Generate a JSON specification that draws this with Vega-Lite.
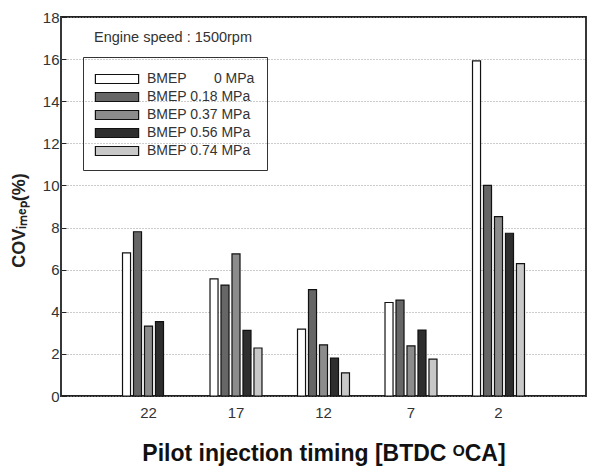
{
  "$schema": "https://vega.github.io/schema/vega-lite/v6.json",
  "width": 525,
  "height": 379,
  "autosize": {"type": "none"},
  "padding": {"left": 61, "top": 17, "right": 7, "bottom": 72},
  "background": "white",
  "config": {
    "font": "Liberation Sans",
    "view": {"stroke": "#222", "strokeWidth": 1.8}
  },
  "title": {
    "text": "Engine speed : 1500rpm",
    "anchor": "start",
    "frame": "group",
    "dx": 33,
    "offset": -35,
    "fontSize": 14.5,
    "fontWeight": "normal",
    "color": "#333",
    "font": "Liberation Sans"
  },
  "data": {
    "values": [
      {"t": "22", "s": "0", "v": 6.8},
      {"t": "22", "s": "0.18", "v": 7.8},
      {"t": "22", "s": "0.37", "v": 3.32},
      {"t": "22", "s": "0.56", "v": 3.53},
      {"t": "17", "s": "0", "v": 5.56},
      {"t": "17", "s": "0.18", "v": 5.27},
      {"t": "17", "s": "0.37", "v": 6.75},
      {"t": "17", "s": "0.56", "v": 3.12},
      {"t": "17", "s": "0.74", "v": 2.28},
      {"t": "12", "s": "0", "v": 3.18},
      {"t": "12", "s": "0.18", "v": 5.05},
      {"t": "12", "s": "0.37", "v": 2.43},
      {"t": "12", "s": "0.56", "v": 1.8},
      {"t": "12", "s": "0.74", "v": 1.1},
      {"t": "7", "s": "0", "v": 4.44},
      {"t": "7", "s": "0.18", "v": 4.55},
      {"t": "7", "s": "0.37", "v": 2.38},
      {"t": "7", "s": "0.56", "v": 3.13},
      {"t": "7", "s": "0.74", "v": 1.75},
      {"t": "2", "s": "0", "v": 15.92},
      {"t": "2", "s": "0.18", "v": 10.0},
      {"t": "2", "s": "0.37", "v": 8.52},
      {"t": "2", "s": "0.56", "v": 7.73},
      {"t": "2", "s": "0.74", "v": 6.29}
    ]
  },
  "mark": {"type": "bar", "stroke": "#111", "strokeWidth": 1.2},
  "encoding": {
    "x": {
      "field": "t",
      "type": "nominal",
      "sort": ["22", "17", "12", "7", "2"],
      "scale": {"paddingInner": 0.406, "paddingOuter": 0.703},
      "axis": {
        "title": "Pilot injection timing [BTDC ᴼCA]",
        "labelAngle": 0,
        "ticks": false,
        "domain": false,
        "labelPadding": 9,
        "labelFontSize": 15,
        "labelColor": "#333",
        "titleFontSize": 23,
        "titleFontWeight": "bold",
        "titlePadding": 22,
        "titleColor": "#111"
      }
    },
    "xOffset": {
      "field": "s",
      "type": "nominal",
      "scale": {"domain": ["0", "0.18", "0.37", "0.56", "0.74"], "paddingInner": 0.27, "paddingOuter": 0}
    },
    "y": {
      "field": "v",
      "type": "quantitative",
      "scale": {"domain": [0, 18], "nice": false},
      "axis": {
        "title": "COVᵢₘₑₚ(%)",
        "values": [0, 2, 4, 6, 8, 10, 12, 14, 16, 18],
        "grid": true,
        "gridDash": [1, 2],
        "gridColor": "#999",
        "tickSize": -5,
        "tickColor": "#222",
        "labelFontSize": 15,
        "labelColor": "#333",
        "labelPadding": 7,
        "domain": false,
        "titleFontSize": 18,
        "titleFontWeight": "bold",
        "titleColor": "#222",
        "titlePadding": 14,
        "titleY": 203
      }
    },
    "fill": {
      "field": "s",
      "type": "nominal",
      "scale": {
        "domain": ["0", "0.18", "0.37", "0.56", "0.74"],
        "range": ["#ffffff", "#666666", "#8c8c8c", "#2e2e2e", "#c8c8c8"]
      },
      "legend": {
        "orient": "none",
        "legendX": 22,
        "legendY": 40,
        "title": null,
        "strokeColor": "#333",
        "padding": 12,
        "symbolType": "M-2.4,-0.5H2.4V0.5H-2.4Z",
        "symbolSize": 324,
        "symbolOffset": 12,
        "symbolStrokeColor": "#111",
        "symbolStrokeWidth": 1.2,
        "labelFontSize": 14,
        "labelColor": "#333",
        "labelOffset": 20,
        "rowPadding": 1,
        "labelExpr": "datum.value == '0' ? 'BMEP\u00a0\u00a0\u00a0\u00a0\u00a0\u00a0 0 MPa' : 'BMEP ' + datum.value + ' MPa'"
      }
    }
  }
}
